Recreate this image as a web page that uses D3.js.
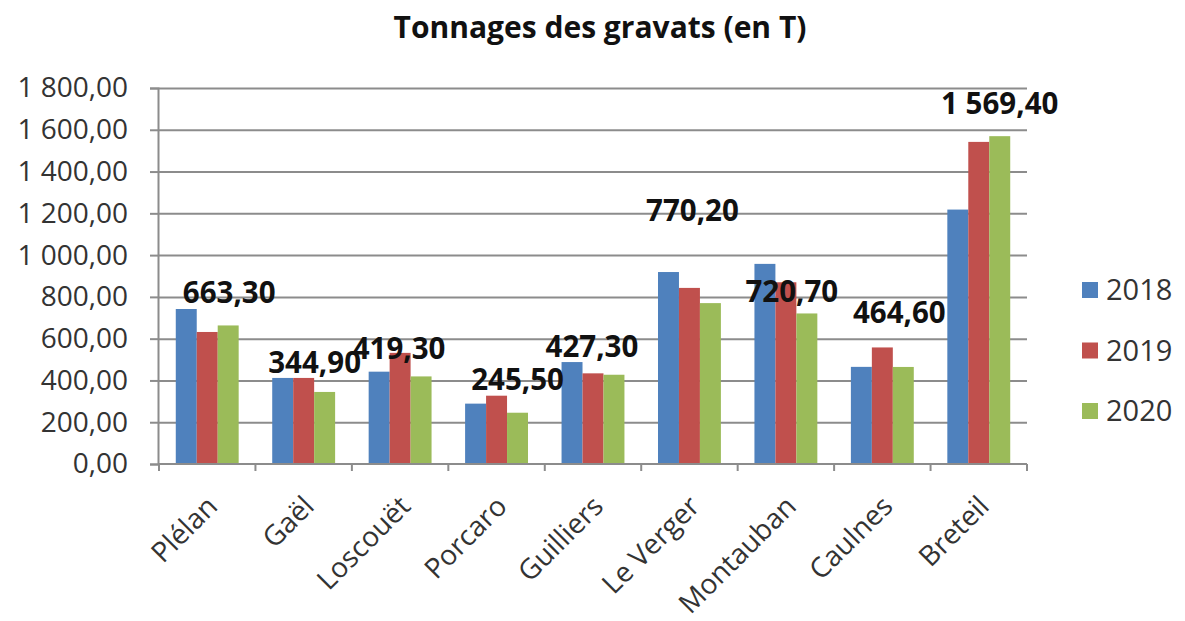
<!DOCTYPE html>
<html><head><meta charset="utf-8">
<script src="https://cdn.jsdelivr.net/npm/d3@7"></script>
<style>
html,body{margin:0;padding:0;background:#fff;}
svg{display:block;font-family:"Open Sans","Noto Sans",sans-serif;}
</style></head>
<body>
<svg id="chart" width="1185" height="621"></svg>
<script>
const title = "Tonnages des gravats (en T)";
const categories = ["Plélan","Gaël","Loscouët","Porcaro","Guilliers","Le Verger","Montauban","Caulnes","Breteil"];
const years = ["2018","2019","2020"];
const values2018 = [742, 412, 442, 289, 488, 919, 958, 465, 1218];
const values2019 = [632, 412, 532, 327, 434, 843, 870, 558, 1542];
const values2020 = [663.3, 344.9, 419.3, 245.5, 427.3, 770.2, 720.7, 464.6, 1569.4];
const yTicks = [0,200,400,600,800,1000,1200,1400,1600,1800];
const colors = ["#4F81BD","#C0504D","#9BBB59"];
// label nudges (px) relative to default position above the 2020 bar
const labelNudge = [[1,0],[-10,4],[-22,5],[0,0],[-22,5],[-18,-59],[-15,11],[-4,-21],[0,1]];

const series = [values2018, values2019, values2020];
const svg = d3.select("#chart");
const L = 158, R = 1027, T = 88, B = 464;
const fr = d3.formatLocale({decimal:",", thousands:"\u00a0", grouping:[3], currency:["",""]});
const fmt = fr.format(",.2f");

const x = d3.scaleBand().domain(categories).range([L+1, R]).paddingInner(0).paddingOuter(0);
const xs = d3.scaleBand().domain(years).range([0, x.bandwidth()]).paddingInner(0).paddingOuter(0.8);
const y = d3.scaleLinear().domain([0,1800]).range([B, T]);

// title
svg.append("text").attr("x", 600).attr("y", 38).attr("text-anchor","middle")
  .attr("font-weight","bold").attr("font-size", 30).attr("fill","#111").text(title);

// gridlines
svg.append("g").attr("transform",`translate(${L},0)`)
  .call(d3.axisLeft(y).tickValues(yTicks.slice(1)).tickSize(-(R-L)).tickFormat(""))
  .call(g=>g.select(".domain").remove())
  .call(g=>g.selectAll("line").attr("stroke","#8c8c8c").attr("stroke-width",2));

// bars
categories.forEach((c,i)=>{
  years.forEach((yr,j)=>{
    svg.append("rect")
      .attr("x", x(c)+xs(yr)).attr("width", xs.bandwidth())
      .attr("y", y(series[j][i])).attr("height", B - y(series[j][i]))
      .attr("fill", colors[j]);
  });
});

// y axis
svg.append("g").attr("transform",`translate(${L},0)`)
  .call(d3.axisLeft(y).tickValues(yTicks).tickSize(8).tickPadding(22).tickFormat(fmt))
  .call(g=>g.select(".domain").attr("stroke","#8c8c8c").attr("stroke-width",2))
  .call(g=>g.selectAll("line").attr("stroke","#8c8c8c").attr("stroke-width",2))
  .call(g=>g.selectAll("text").attr("font-size",28).attr("fill","#333").attr("font-family","'Open Sans',sans-serif"));

// x axis
const xa = svg.append("g").attr("transform",`translate(0,${B})`);
xa.append("line").attr("x1",L).attr("x2",R).attr("stroke","#8c8c8c").attr("stroke-width",2);
const bounds = categories.map(c=>x(c)).concat([R]);
xa.selectAll("line.tk").data(bounds).join("line").attr("class","tk")
  .attr("x1",d=>d).attr("x2",d=>d).attr("y1",0).attr("y2",7)
  .attr("stroke","#8c8c8c").attr("stroke-width",2);
xa.selectAll("text").data(categories).join("text")
  .attr("text-anchor","end")
  .attr("transform",d=>`translate(${x(d)+x.bandwidth()/2+12},${44}) rotate(-45)`)
  .attr("font-size",28).attr("fill","#333").text(d=>d);

// data labels (2020)
svg.append("g").selectAll("text").data(values2020).join("text")
  .attr("x",(d,i)=>x(categories[i])+xs("2020")+xs.bandwidth()/2+labelNudge[i][0])
  .attr("y",(d,i)=>y(d)-33+labelNudge[i][1])
  .attr("dy","0.35em")
  .attr("text-anchor","middle").attr("font-weight","bold").attr("font-size",29.5).attr("fill","#111")
  .text(d=>fmt(d));

// legend
const lg = svg.append("g");
years.forEach((yr,j)=>{
  const cy = 290 + j*60.5;
  lg.append("rect").attr("x",1082).attr("y",cy-8).attr("width",16).attr("height",16).attr("fill",colors[j]);
  lg.append("text").attr("x",1106).attr("y",cy).attr("dy","0.36em").attr("font-size",29).attr("fill","#333").text(yr);
});
</script>
</body></html>
